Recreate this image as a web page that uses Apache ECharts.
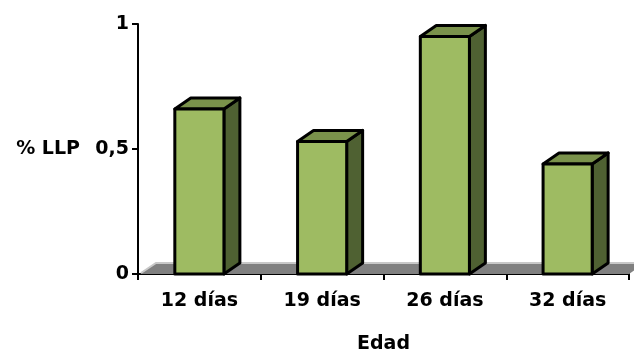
<!DOCTYPE html>
<html>
<head>
<meta charset="utf-8">
<script src="https://cdn.jsdelivr.net/npm/echarts@6/dist/echarts.min.js"></script>
<style>
  html, body { margin: 0; padding: 0; background: #fff; }
  #chart { width: 634px; height: 351px; }
</style>
</head>
<body>
<div id="chart"></div>
<script>
// Age groups and the measured % LLP for each
const categories = ['12 días', '19 días', '26 días', '32 días'];
const llpValues = [0.66, 0.53, 0.95, 0.44];
const yTicks = [0, 0.5, 1];

const FONT = '"DejaVu Sans", sans-serif';
const COLORS = { front: '#9EBB62', top: '#7A924B', side: '#4F6132', floor: '#808080', floorEdge: '#C8C8C8' };

// depth of the pseudo-3D extrusion, relative to the category band width
const DEPTH_X = 0.13, DEPTH_Y = 0.09;

function renderFloor(params, api) {
  const cs = params.coordSys;
  const band = api.size([1, 0])[0];
  const dx = band * DEPTH_X, dy = band * DEPTH_Y;
  const y0 = api.coord([0, 0])[1];
  const x0 = cs.x + 2, x1 = cs.x + cs.width;
  return {
    type: 'group',
    children: [
      {
        type: 'polygon',
        shape: { points: [[x0, y0], [x1, y0], [x1 + dx, y0 - dy], [x0 + dx, y0 - dy]] },
        style: { fill: COLORS.floor }
      },
      {
        type: 'polyline',
        shape: { points: [[x0 + 1, y0 - 1], [x0 + dx, y0 - dy], [x1 + dx, y0 - dy]] },
        style: { stroke: COLORS.floorEdge, lineWidth: 2, fill: null }
      }
    ]
  };
}

function renderBar(params, api) {
  const idx = api.value(0);
  const val = api.value(1);
  const band = api.size([1, 0])[0];
  const w = band * 0.4;
  const dx = band * DEPTH_X, dy = band * DEPTH_Y;
  const top = api.coord([idx, val]);
  const bottom = api.coord([idx, 0]);
  const xl = top[0] - w / 2, xr = top[0] + w / 2;
  const yt = top[1], yb = bottom[1];
  const edge = { stroke: '#000', lineWidth: 3, lineJoin: 'round' };
  return {
    type: 'group',
    children: [
      {
        type: 'polygon',
        shape: { points: [[xr, yt], [xr + dx, yt - dy], [xr + dx, yb - dy], [xr, yb]] },
        style: Object.assign({ fill: COLORS.side }, edge)
      },
      {
        type: 'polygon',
        shape: { points: [[xl, yt], [xl + dx, yt - dy], [xr + dx, yt - dy], [xr, yt]] },
        style: Object.assign({ fill: COLORS.top }, edge)
      },
      {
        type: 'rect',
        shape: { x: xl, y: yt, width: w, height: yb - yt },
        style: Object.assign({ fill: COLORS.front }, edge)
      }
    ]
  };
}

const chart = echarts.init(document.getElementById('chart'), null, { renderer: 'canvas' });

chart.setOption({
  animation: false,
  backgroundColor: '#fff',
  grid: { left: 138, right: 5, top: 24, bottom: 77, outerBoundsMode: 'none', containLabel: false },
  xAxis: {
    type: 'category',
    data: categories,
    name: 'Edad',
    nameLocation: 'middle',
    nameGap: 61,
    nameTextStyle: { fontFamily: FONT, fontWeight: 'bold', fontSize: 19, color: '#000' },
    axisLine: { lineStyle: { color: '#000', width: 2 } },
    axisTick: { show: true, length: 6, lineStyle: { color: '#000', width: 2 } },
    axisLabel: { fontFamily: FONT, fontWeight: 'bold', fontSize: 19, color: '#000', margin: 18 },
    splitLine: { show: false }
  },
  yAxis: {
    type: 'value',
    min: yTicks[0],
    max: yTicks[yTicks.length - 1],
    interval: 0.5,
    name: '% LLP',
    nameLocation: 'middle',
    nameRotate: 0,
    nameGap: 58,
    nameTextStyle: { fontFamily: FONT, fontWeight: 'bold', fontSize: 19, color: '#000' },
    axisLine: { show: true, lineStyle: { color: '#000', width: 2 } },
    axisTick: { show: true, length: 6, lineStyle: { color: '#000', width: 2 } },
    axisLabel: {
      fontFamily: FONT, fontWeight: 'bold', fontSize: 19, color: '#000', margin: 9,
      formatter: v => String(v).replace('.', ',')
    },
    splitLine: { show: false }
  },
  series: [
    {
      type: 'custom',
      renderItem: renderFloor,
      data: [[0, 0]],
      z: 1,
      silent: true
    },
    {
      type: 'custom',
      renderItem: renderBar,
      data: llpValues.map((v, i) => [i, v]),
      encode: { x: 0, y: 1 },
      z: 2,
      clip: false
    }
  ]
});
</script>
</body>
</html>
